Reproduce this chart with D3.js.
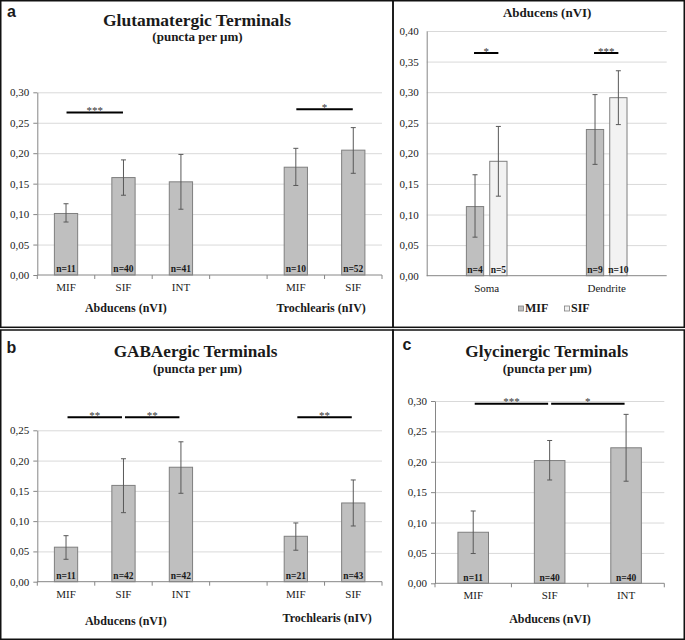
<!DOCTYPE html>
<html><head><meta charset="utf-8">
<script src="https://cdn.jsdelivr.net/npm/d3@7"></script>
<style>
body{margin:0;background:#fff}
svg{display:block}
text{font-family:"Liberation Serif","Times New Roman",serif}
</style>
</head><body>
<svg id="chart" width="685" height="640"></svg>
<script>
// ---------- Panel a: Glutamatergic terminals ----------
const glutLabels   = ["MIF", "SIF", "INT", "", "MIF", "SIF"];
const glutMeans    = [0.101, 0.160, 0.153, null, 0.177, 0.205];
const glutErrLow   = [0.087, 0.131, 0.108, null, 0.147, 0.167];
const glutErrHigh  = [0.117, 0.189, 0.198, null, 0.208, 0.242];
const glutN        = ["n=11", "n=40", "n=41", "", "n=10", "n=52"];
const glutTicks    = [0, 0.05, 0.10, 0.15, 0.20, 0.25, 0.30];
const glutSigFrom  = [0, 4];
const glutSigTo    = [1, 5];
const glutSigText  = ["***", "*"];
const glutSigLevel = [0.267, 0.272];

// ---------- Panel a (right): Abducens soma / dendrite ----------
const abdGroups    = ["Soma", "Dendrite"];
const abdSeries    = ["MIF", "SIF"];
const abdMifMeans  = [0.113, 0.239];
const abdMifLow    = [0.063, 0.182];
const abdMifHigh   = [0.165, 0.296];
const abdSifMeans  = [0.187, 0.291];
const abdSifLow    = [0.130, 0.247];
const abdSifHigh   = [0.244, 0.335];
const abdMifN      = ["n=4", "n=9"];
const abdSifN      = ["n=5", "n=10"];
const abdTicks     = [0, 0.05, 0.10, 0.15, 0.20, 0.25, 0.30, 0.35, 0.40];
const abdSigText   = ["*", "***"];
const abdSigLevel  = [0.364, 0.364];

// ---------- Panel b: GABAergic terminals ----------
const gabaLabels   = ["MIF", "SIF", "INT", "", "MIF", "SIF"];
const gabaMeans    = [0.057, 0.159, 0.189, null, 0.075, 0.130];
const gabaErrLow   = [0.037, 0.114, 0.146, null, 0.052, 0.092];
const gabaErrHigh  = [0.076, 0.203, 0.231, null, 0.097, 0.168];
const gabaN        = ["n=11", "n=42", "n=42", "", "n=21", "n=43"];
const gabaTicks    = [0, 0.05, 0.10, 0.15, 0.20, 0.25];
const gabaSigFrom  = [0, 1, 4];
const gabaSigTo    = [1, 2, 5];
const gabaSigText  = ["**", "**", "**"];
const gabaSigLevel = [0.2715, 0.2715, 0.2715];

// ---------- Panel c: Glycinergic terminals ----------
const glyLabels    = ["MIF", "SIF", "INT"];
const glyMeans     = [0.084, 0.202, 0.223];
const glyErrLow    = [0.049, 0.170, 0.168];
const glyErrHigh   = [0.119, 0.235, 0.278];
const glyN         = ["n=11", "n=40", "n=40"];
const glyTicks     = [0, 0.05, 0.10, 0.15, 0.20, 0.25, 0.30];
const glySigFrom   = [0, 1];
const glySigTo     = [1, 2];
const glySigText   = ["***", "*"];
const glySigLevel  = [0.2955, 0.2955];

// ================= drawing =================
const svg = d3.select("#chart");
const fmt = d3.formatLocale({decimal: ",", thousands: ".", grouping: [3], currency: ["", ""]}).format(".2f");
const SERIF = '"Liberation Serif","Times New Roman",serif';
const SANS = '"Liberation Sans",Arial,sans-serif';

const C = {
  bar: "#bfbfbf", barLight: "#f2f2f2", barStroke: "#7f7f7f",
  grid: "#d9d9d9", axis: "#868686", err: "#595959", text: "#1a1a1a"
};

function frame(x0, y0, x1, y1) {
  svg.append("rect").attr("x", x0).attr("y", y0).attr("width", x1 - x0).attr("height", y1 - y0)
    .attr("fill", "none").attr("stroke", "#111").attr("stroke-width", 1.5);
}
function txt(x, y, s, size, weight, anchor, family) {
  const t = svg.append("text").attr("x", x).attr("y", y).text(s)
    .attr("font-size", size).attr("font-weight", weight || "normal")
    .attr("text-anchor", anchor || "middle").attr("fill", C.text);
  if (family) t.style("font-family", family);
  return t;
}

function yAxis(y, ticks, x0, x1, withTicks) {
  svg.append("g").attr("transform", `translate(${x0},0)`)
    .call(d3.axisLeft(y).tickValues(ticks.filter(t => t > 0)).tickSize(-(x1 - x0)).tickFormat(""))
    .call(g => g.select(".domain").remove())
    .call(g => g.selectAll("line").attr("stroke", C.grid).attr("stroke-width", 1));
  svg.append("g").attr("transform", `translate(${x0},0)`)
    .call(d3.axisLeft(y).tickValues(ticks).tickFormat(fmt).tickSizeInner(withTicks ? 4 : 0).tickSizeOuter(0).tickPadding(withTicks ? 4 : 8))
    .call(g => g.select(".domain").attr("stroke", C.axis))
    .call(g => g.selectAll("line").attr("stroke", C.axis))
    .call(g => g.selectAll("text").attr("font-size", 11).attr("fill", C.text).style("font-family", SERIF));
}

function xAxis(x, labels, y0, x0, x1, withTicks) {
  svg.append("line").attr("x1", x0).attr("x2", x1).attr("y1", y0).attr("y2", y0)
    .attr("stroke", C.axis).attr("stroke-width", 1);
  if (withTicks) {
    const bounds = d3.range(labels.length + 1).map(i => x0 + i * x.step());
    svg.append("g").selectAll("line").data(bounds).join("line")
      .attr("x1", d => d).attr("x2", d => d).attr("y1", y0).attr("y2", y0 + 4)
      .attr("stroke", C.axis);
  }
  svg.append("g").attr("transform", `translate(0,${y0})`)
    .call(d3.axisBottom(x).tickSize(0).tickFormat(i => labels[i]))
    .call(g => g.select(".domain").remove())
    .call(g => g.selectAll("text").attr("y", 16).attr("dy", null).attr("font-size", 11).attr("fill", C.text)
      .style("font-family", SERIF));
}

function errBars(g, cx, y, lo, hi) {
  g.append("line").attr("x1", cx).attr("x2", cx).attr("y1", y(lo)).attr("y2", y(hi))
    .attr("stroke", C.err).attr("stroke-width", 1);
  [lo, hi].forEach(v => g.append("line").attr("x1", cx - 2.5).attr("x2", cx + 2.5)
    .attr("y1", y(v)).attr("y2", y(v)).attr("stroke", C.err).attr("stroke-width", 1));
}

function sigLine(xa, xb, yv, s) {
  svg.append("line").attr("x1", xa).attr("x2", xb).attr("y1", yv).attr("y2", yv)
    .attr("stroke", "#000").attr("stroke-width", 2);
  txt((xa + xb) / 2, yv + 1.5, s, 11, "normal").attr("fill", "#333");
}

function barPanel(o) {
  const idx = d3.range(o.labels.length);
  const x = d3.scaleBand().domain(idx).range([o.x0, o.x1]).padding(0);
  const y = d3.scaleLinear().domain([0, o.ymax]).range([o.y0, o.ytop]);
  yAxis(y, o.ticks, o.x0, o.x1, true);
  const bw = x.step() * o.barFrac;
  const cx = i => x(i) + x.bandwidth() / 2;
  const g = svg.append("g");
  idx.filter(i => o.means[i] != null).forEach(i => {
    g.append("rect").attr("x", cx(i) - bw / 2).attr("y", y(o.means[i]))
      .attr("width", bw).attr("height", y(0) - y(o.means[i]))
      .attr("fill", C.bar).attr("stroke", C.barStroke).attr("stroke-width", 1);
    errBars(g, cx(i), y, o.low[i], o.high[i]);
    txt(cx(i), o.y0 - 2.7, o.ns[i], 9.5, "bold");
  });
  xAxis(x, o.labels, o.y0, o.x0, o.x1, true);
  o.sigFrom.forEach((f, k) => {
    sigLine(cx(f) + o.inset, cx(o.sigTo[k]) - o.inset, y(o.sigLevel[k]), o.sigText[k]);
  });
}

// frames
frame(0.75, 0.75, 393, 327.3);
frame(393, 0.75, 684.25, 327.3);
frame(0.75, 330, 393, 639.25);
frame(393, 330, 684.25, 639.25);

// ----- panel a -----
txt(11.5, 16.7, "a", 16, "bold", "middle", SANS);
txt(197, 26, "Glutamatergic Terminals", 17.5, "bold");
txt(197.5, 41, "(puncta per µm)", 13, "bold");
barPanel({x0: 37.3, x1: 382, y0: 275, ytop: 92.3, ymax: 0.30, ticks: glutTicks, labels: glutLabels,
  means: glutMeans, low: glutErrLow, high: glutErrHigh, ns: glutN, barFrac: 0.405,
  sigFrom: glutSigFrom, sigTo: glutSigTo, sigText: glutSigText, sigLevel: glutSigLevel, inset: 0.5});
txt(125.8, 311.7, "Abducens (nVI)", 12, "bold");
txt(321.2, 311.7, "Trochlearis (nIV)", 12, "bold");

// ----- panel a right: grouped -----
(function () {
  const x0 = 426.7, x1 = 666.7, y0 = 275.7, ytop = 31;
  const x = d3.scaleBand().domain(abdGroups).range([x0, x1]).padding(0);
  const xs = d3.scaleBand().domain(abdSeries).range([0, x.step()]).paddingInner(0.26).paddingOuter(1.7);
  const y = d3.scaleLinear().domain([0, 0.40]).range([y0, ytop]);
  yAxis(y, abdTicks, x0, x1, false);
  svg.append("line").attr("x1", x0).attr("x2", x1).attr("y1", y0).attr("y2", y0).attr("stroke", C.axis);
  const series = [
    {key: "MIF", means: abdMifMeans, low: abdMifLow, high: abdMifHigh, ns: abdMifN, fill: C.bar},
    {key: "SIF", means: abdSifMeans, low: abdSifLow, high: abdSifHigh, ns: abdSifN, fill: C.barLight}
  ];
  const g = svg.append("g");
  abdGroups.forEach((grp, gi) => {
    series.forEach(s => {
      const bx = x(grp) + xs(s.key), bw = xs.bandwidth(), c = bx + bw / 2;
      g.append("rect").attr("x", bx).attr("y", y(s.means[gi])).attr("width", bw)
        .attr("height", y(0) - y(s.means[gi])).attr("fill", s.fill)
        .attr("stroke", C.barStroke).attr("stroke-width", 1);
      errBars(g, c, y, s.low[gi], s.high[gi]);
      txt(c, y0 - 2.7, s.ns[gi], 9.5, "bold");
    });
    const ca = x(grp) + xs("MIF") + xs.bandwidth() / 2, cb = x(grp) + xs("SIF") + xs.bandwidth() / 2;
    sigLine(ca - 1, cb, y(abdSigLevel[gi]), abdSigText[gi]);
  });
  svg.append("g").attr("transform", `translate(0,${y0})`)
    .call(d3.axisBottom(x).tickSize(0))
    .call(g => g.select(".domain").remove())
    .call(g => g.selectAll("text").attr("y", 16.6).attr("dy", null).attr("font-size", 11).attr("fill", C.text)
      .style("font-family", SERIF));
  txt(547.2, 17.3, "Abducens (nVI)", 13, "bold");
  // legend
  svg.append("rect").attr("x", 518.5).attr("y", 306).attr("width", 5).attr("height", 5)
    .attr("fill", C.bar).attr("stroke", C.barStroke).attr("stroke-width", 0.8);
  txt(525, 311.7, "MIF", 12, "bold", "start");
  svg.append("rect").attr("x", 564.5).attr("y", 306).attr("width", 5).attr("height", 5)
    .attr("fill", C.barLight).attr("stroke", C.barStroke).attr("stroke-width", 0.8);
  txt(571, 311.7, "SIF", 12, "bold", "start");
})();

// ----- panel b -----
txt(11.5, 353.3, "b", 16, "bold", "middle", SANS);
txt(195.5, 357.3, "GABAergic Terminals", 17.2, "bold");
txt(197.5, 372.5, "(puncta per µm)", 12.8, "bold");
barPanel({x0: 37.3, x1: 382, y0: 581.7, ytop: 430.3, ymax: 0.25, ticks: gabaTicks, labels: gabaLabels,
  means: gabaMeans, low: gabaErrLow, high: gabaErrHigh, ns: gabaN, barFrac: 0.405,
  sigFrom: gabaSigFrom, sigTo: gabaSigTo, sigText: gabaSigText, sigLevel: gabaSigLevel, inset: 1.5});
txt(125.8, 625, "Abducens (nVI)", 12, "bold");
txt(327.2, 621.7, "Trochlearis (nIV)", 12, "bold");

// ----- panel c -----
txt(407, 350, "c", 16, "bold", "middle", SANS);
txt(546.7, 357.3, "Glycinergic Terminals", 17.2, "bold");
txt(547.3, 372.5, "(puncta per µm)", 12.8, "bold");
barPanel({x0: 435, x1: 664.3, y0: 583.3, ytop: 401, ymax: 0.30, ticks: glyTicks, labels: glyLabels,
  means: glyMeans, low: glyErrLow, high: glyErrHigh, ns: glyN, barFrac: 0.40,
  sigFrom: glySigFrom, sigTo: glySigTo, sigText: glySigText, sigLevel: glySigLevel, inset: 1.5});
txt(550, 623.3, "Abducens (nVI)", 12, "bold");
</script>
</body></html>
